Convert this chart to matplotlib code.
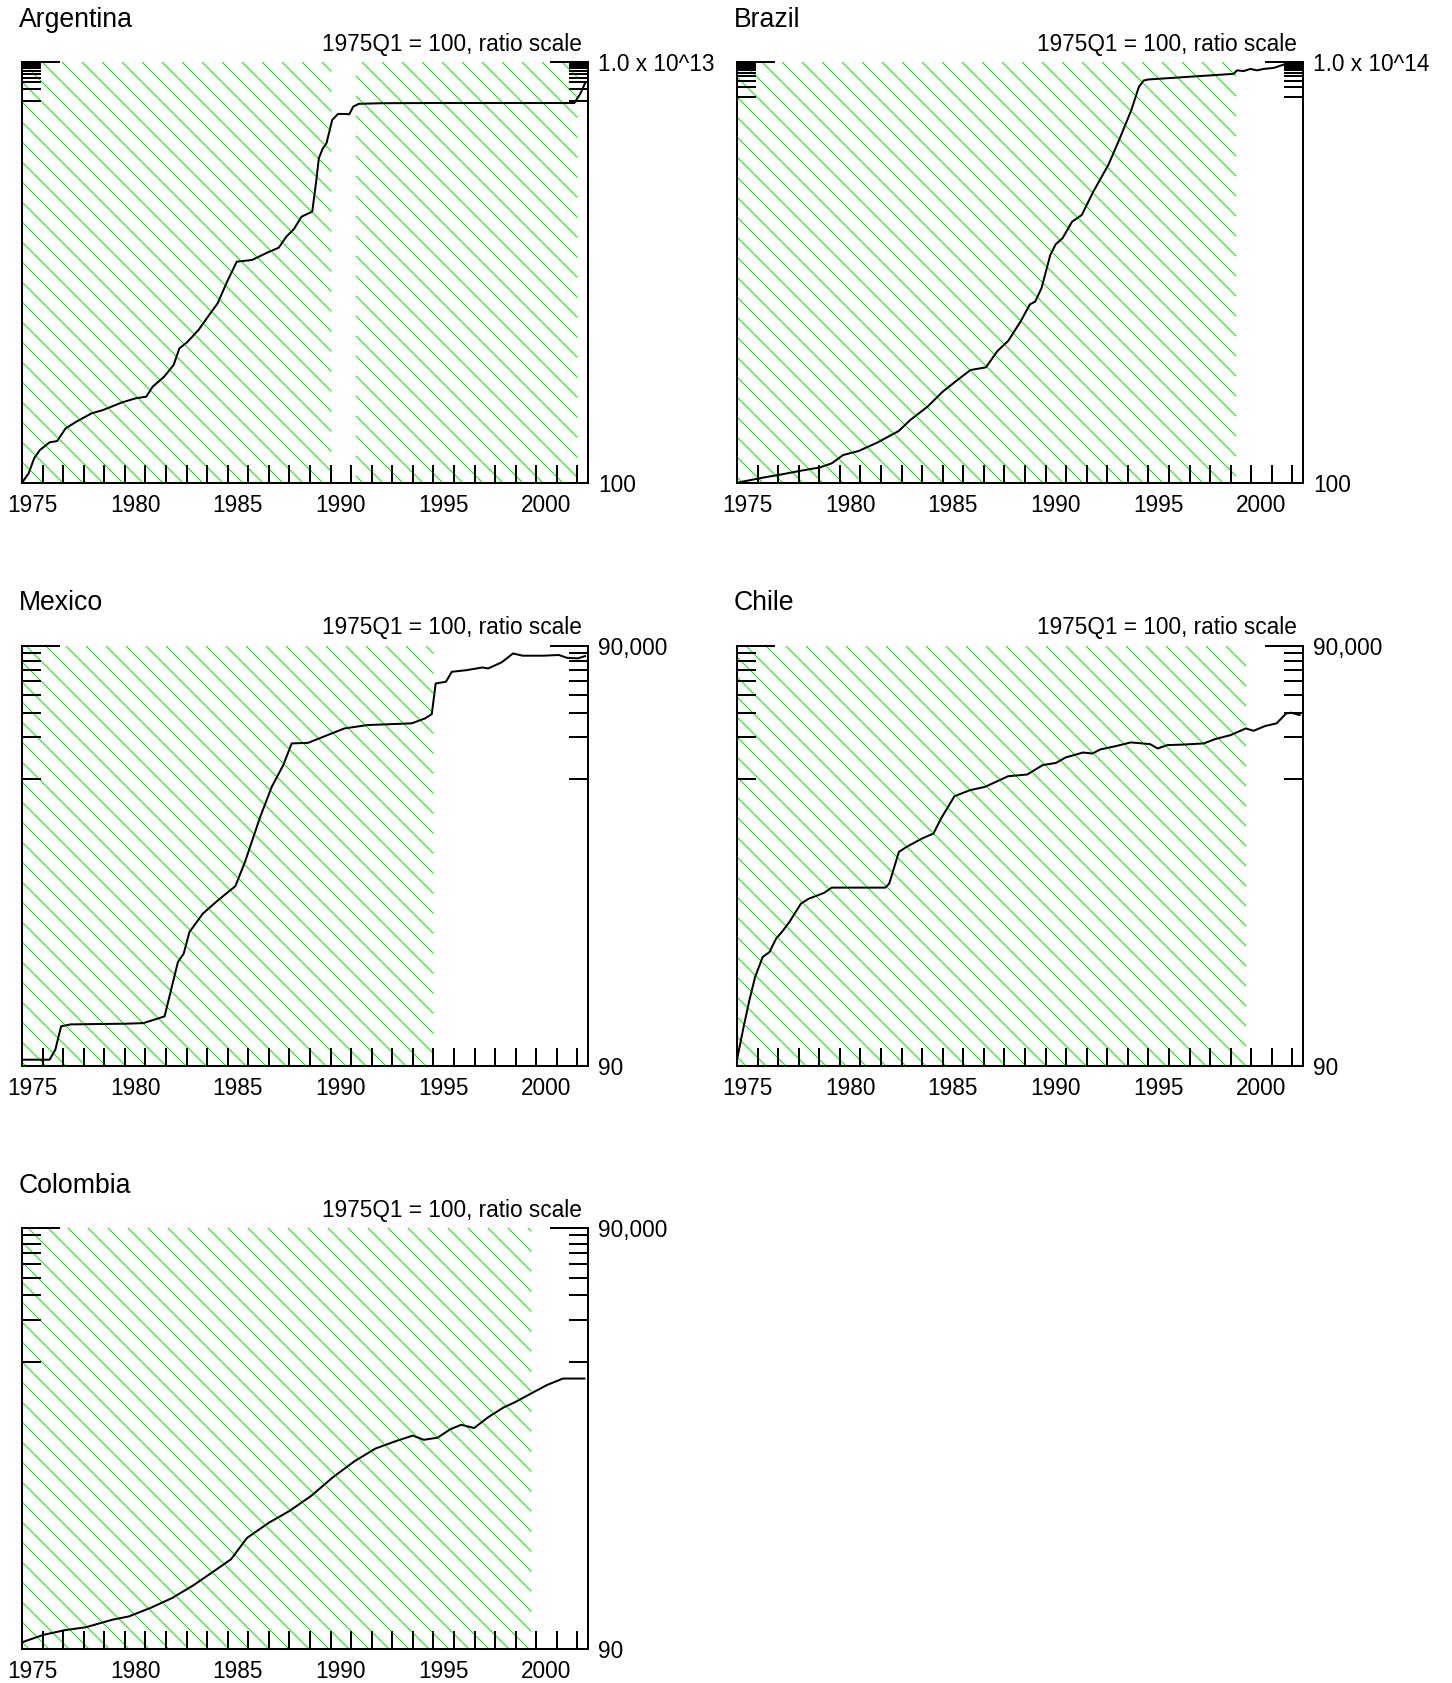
import numpy as np
import matplotlib
matplotlib.use('Agg')
import matplotlib.pyplot as plt
from matplotlib.ticker import FixedLocator, NullFormatter

plt.rcParams['font.family'] = ['Liberation Sans', 'DejaVu Sans']
plt.rcParams['hatch.linewidth'] = 0.55

### quarterly index values, 1975Q1 = 100
arg_years = [1975.0, 1975.32, 1975.59, 1975.87, 1976.34, 1976.71, 1977.12, 1977.64, 1978.38, 1978.94,
             1979.87, 1980.52, 1981.04, 1981.35, 1981.91, 1982.37, 1982.65, 1983.02, 1983.58, 1984.04,
             1984.51, 1984.97, 1985.44, 1986.18, 1986.92, 1987.48, 1987.85, 1988.22, 1988.59, 1989.11,
             1989.30, 1989.43, 1989.61, 1989.80, 1990.08, 1990.36, 1990.73, 1990.91, 1991.10, 1991.38,
             1992.49, 1995.0, 2001.85, 2002.15, 2002.37]
arg_index = [100, 175, 434, 716, 1138, 1230, 2642, 3945, 6516, 7980,
             12650, 16110, 17820, 32510, 59430, 1.20e5, 3.27e5, 4.70e5, 9.89e5, 2.21e6,
             4.93e6, 1.82e7, 6.07e7, 6.71e7, 1.045e8, 1.41e8, 2.74e8, 4.35e8, 9.14e8, 1.24e9,
             7.53e9, 3.08e10, 5.40e10, 7.59e10, 3.10e11, 4.45e11, 4.45e11, 4.36e11, 6.92e11, 8.2e11,
             8.5e11, 8.6e11, 8.6e11, 1.54e12, 2.82e12]

bra_years = [1975.0, 1976.25, 1977.18, 1978.11, 1979.04, 1979.6, 1980.16, 1980.91, 1981.84, 1982.86,
             1983.42, 1984.26, 1985.0, 1985.61, 1986.35, 1987.1, 1987.66, 1988.18, 1988.78, 1989.24,
             1989.49, 1989.80, 1990.23, 1990.49, 1990.82, 1991.29, 1991.76, 1992.32, 1993.05, 1993.61,
             1994.17, 1994.54, 1994.77, 1995.01, 1999.14, 1999.31, 1999.63, 1999.96, 2000.28, 2000.6,
             2001.09, 2001.66]
bra_index = [100, 139, 173, 220, 274, 356, 617, 802, 1416, 2985,
             6150, 14790, 39630, 76380, 1.644e5, 1.963e5, 5.74e5, 1.107e6, 3.945e6, 1.233e7,
             1.469e7, 3.53e7, 3.16e8, 6.37e8, 9.44e8, 2.825e9, 4.385e9, 2.03e10, 1.172e11, 6.76e11,
             4.355e12, 2.018e13, 3.02e13, 3.24e13, 4.68e13, 5.89e13, 5.62e13, 6.46e13, 5.89e13, 6.46e13,
             6.92e13, 8.91e13]

mex_years = [1975.0, 1976.34, 1976.62, 1976.9, 1977.36, 1980.06, 1980.9, 1981.93, 1982.58, 1982.86,
             1983.14, 1983.79, 1984.53, 1985.37, 1985.84, 1986.58, 1987.14, 1987.7, 1988.11, 1988.91,
             1989.93, 1990.68, 1991.79, 1993.94, 1994.59, 1994.92, 1995.11, 1995.61, 1995.89, 1996.63,
             1997.38, 1997.66, 1998.31, 1998.87, 1999.33, 2000.36, 2001.1, 2001.48, 2002.03, 2002.37]
mex_index = [100, 100, 117.8, 173, 178.6, 180.7, 182.4, 203.7, 497.7, 571.5,
             814.7, 1102, 1374, 1730, 2576, 5408, 8851, 12650, 18070, 18240,
             20940, 23120, 24430, 25120, 27230, 29240, 48420, 49770, 58610, 60260,
             62950, 61940, 68390, 79250, 76380, 76380, 77270, 73790, 73110, 75860]

chl_years = [1975.0, 1975.32, 1975.6, 1975.88, 1976.25, 1976.58, 1976.9, 1977.18, 1977.55, 1978.11,
             1978.49, 1979.23, 1979.6, 1982.21, 1982.4, 1982.87, 1983.24, 1983.99, 1984.55, 1984.92,
             1985.57, 1986.32, 1987.06, 1988.18, 1989.11, 1989.86, 1990.51, 1990.98, 1991.82, 1992.28,
             1992.66, 1993.4, 1994.15, 1995.08, 1995.45, 1995.92, 1996.76, 1997.69, 1998.25, 1998.99,
             1999.74, 2000.11, 2000.67, 2001.23, 2001.7, 2001.94, 2002.35]
chl_index = [100, 171, 265, 389, 541, 586, 731, 815, 962, 1300,
             1409, 1549, 1690, 1690, 1807, 3041, 3296, 3784, 4111, 5260,
             7586, 8375, 8851, 10540, 10840, 12650, 13120, 14350, 15560, 15310,
             16370, 17260, 18370, 17860, 16630, 17580, 17740, 18070, 19410, 20700,
             23120, 22230, 24040, 25120, 29580, 29920, 28770]

col_years = [1975.0, 1976.04, 1977.08, 1978.1, 1979.4, 1980.2, 1981.25, 1982.3, 1983.33, 1984.4,
             1985.16, 1985.94, 1987.0, 1988.0, 1989.06, 1990.1, 1991.15, 1992.19, 1993.2, 1994.0,
             1994.53, 1995.2, 1995.83, 1996.35, 1996.98, 1997.66, 1998.4, 1998.96, 1999.74, 2000.52,
             2001.3, 2002.34]
col_index = [100, 113, 122, 128, 145, 153, 176, 207, 255, 327,
             391, 556, 713, 865, 1109, 1500, 1954, 2415, 2735, 2985,
             2786, 2884, 3319, 3565, 3381, 4036, 4732, 5164, 5957, 6855,
             7621, 7621]

### hatched periods for each country (start, end)
arg_spans = [(1975.0, 1990.0), (1991.25, 2002.0)]
bra_spans = [(1975.0, 1999.25)]
mex_spans = [(1975.0, 1995.0)]
chl_spans = [(1975.0, 1999.75)]
col_spans = [(1975.0, 1999.75)]

### axis ranges and end labels
arg_range = (100, 1e13)
bra_range = (100, 1e14)
low_range = (90, 90000)
arg_labels = ['100', '1.0 x 10^13']
bra_labels = ['100', '1.0 x 10^14']
low_labels = ['90', '90,000']

tick_years = list(range(1975, 2003))
label_years = [1975, 1980, 1985, 1990, 1995, 2000]

panels = [
    ('Argentina', arg_years, arg_index, arg_spans, arg_range, arg_labels, 22, 62.3),
    ('Brazil', bra_years, bra_index, bra_spans, bra_range, bra_labels, 737, 62.3),
    ('Mexico', mex_years, mex_index, mex_spans, low_range, low_labels, 22, 645.7),
    ('Chile', chl_years, chl_index, chl_spans, low_range, low_labels, 737, 645.7),
    ('Colombia', col_years, col_index, col_spans, low_range, low_labels, 22, 1228.3),
]

W, H = 1452, 1683
panel_w, panel_h = 565.7, 420.4
hatch_green = '#00e600'

fig = plt.figure(figsize=(W / 120, H / 120), dpi=120)

for name, years, index, spans, yrange, ylabels, left_px, top_px in panels:

    ax = fig.add_axes([left_px / W, 1 - (top_px + panel_h) / H, panel_w / W, panel_h / H])

    ### hatched background periods
    for x0, x1 in spans:
        ax.axvspan(x0, x1, facecolor='none', edgecolor=hatch_green, hatch='\\\\', linewidth=0, zorder=0)

    ### the index itself
    ax.plot(years, index, color='black', linewidth=1.2, zorder=3, clip_on=False)

    ax.set_yscale('log')
    ax.set_xlim(1975, 2002.5)
    ax.set_ylim(yrange)

    ### y ticks: long stubs at the ends, short ticks through the top decade
    top = yrange[1]
    decade = 10 ** int(np.floor(np.log10(top) - 1e-9))
    minor = [k * decade for k in range(1, 10) if k * decade < top * 0.999]
    ax.yaxis.set_major_locator(FixedLocator(list(yrange)))
    ax.set_yticklabels(ylabels)
    ax.yaxis.set_minor_locator(FixedLocator(minor))
    ax.yaxis.set_minor_formatter(NullFormatter())
    ax.tick_params(axis='y', which='major', direction='in', length=22.8, width=1.2,
                   left=True, right=True, labelleft=False, labelright=True, pad=6.4, labelsize=13.6)
    ax.tick_params(axis='y', which='minor', direction='in', length=11.2, width=1.2,
                   left=True, right=True)

    ### x ticks every year, labels centred on mid-year
    ax.xaxis.set_major_locator(FixedLocator(tick_years))
    ax.xaxis.set_major_formatter(NullFormatter())
    ax.set_xticks([y + 0.5 for y in label_years], minor=True)
    ax.set_xticklabels([str(y) for y in label_years], minor=True)
    ax.tick_params(axis='x', which='major', direction='in', length=10.8, width=1.2)
    ax.tick_params(axis='x', which='minor', length=0, pad=6.6, labelsize=13.6)

    ### remove the top border, keep the rest
    ax.spines['top'].set_visible(False)
    for side in ['left', 'right', 'bottom']:
        ax.spines[side].set_linewidth(1.2)

    ax.annotate(name, xy=(0, 1), xycoords='axes fraction', xytext=(-1.8, 21.4),
                textcoords='offset points', ha='left', va='baseline', fontsize=16)
    ax.annotate('1975Q1 = 100, ratio scale', xy=(1, 1), xycoords='axes fraction', xytext=(-3.2, 7),
                textcoords='offset points', ha='right', va='baseline', fontsize=13.6)

plt.savefig('out.png', dpi=120)
plt.close(fig)
